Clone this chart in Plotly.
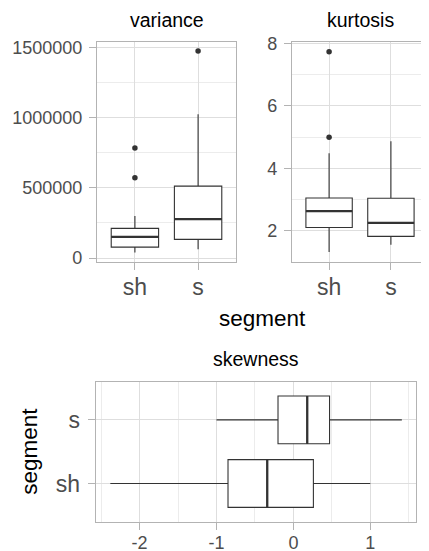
import plotly.graph_objects as go

# ---------------- data ----------------
categories = ["sh", "s"]
cat_pos = [1, 2]

var_lower = [40000, 62000]
var_q1 = [78000, 133000]
var_median = [151000, 277000]
var_q3 = [211000, 512000]
var_upper = [299000, 1024000]
var_out_sh = [571000, 784000]
var_out_s = [1474000]

kur_lower = [1.32, 1.55]
kur_q1 = [2.105, 1.82]
kur_median = [2.63, 2.25]
kur_q3 = [3.05, 3.04]
kur_upper = [4.48, 4.86]
kur_out_sh = [4.99, 7.73]
kur_out_s = []

skw_lower = [-2.38, -1.0]
skw_q1 = [-0.85, -0.20]
skw_median = [-0.34, 0.18]
skw_q3 = [0.26, 0.47]
skw_upper = [1.0, 1.41]

var_ticks = [0, 500000, 1000000, 1500000]
var_minor = [250000, 750000, 1250000]
kur_ticks = [2, 4, 6, 8]
kur_minor = [1, 3, 5, 7]
skw_ticks = [-2, -1, 0, 1]
skw_minor = [-2.5, -1.5, -0.5, 0.5, 1.5]

# ---------------- style ----------------
W, H = 429, 551
OFF = 8  # page body margin
FONT = "Liberation Sans"
BOX_COL = "#333333"
BORDER = "#b3b3b3"
GRID = "#dedede"
MINOR = "#ececec"
TICKTXT = "#4d4d4d"
BOXW = 0.75


def px_x(p):
    return (p - OFF) / W


def px_y(p):
    return 1 - (p - OFF) / H


fig = go.Figure()


def add_vbox(xa, ya, lower, q1, med, q3, upper, out_lists):
    fig.add_trace(go.Box(
        x=cat_pos, q1=q1, median=med, q3=q3, lowerfence=lower, upperfence=upper,
        width=BOXW, whiskerwidth=0, fillcolor="white",
        line=dict(color=BOX_COL, width=1.1), boxpoints=False,
        xaxis=xa, yaxis=ya, showlegend=False, hoverinfo="skip"))
    mx, my = [], []
    for p, m in zip(cat_pos, med):
        mx += [p - BOXW / 2, p + BOXW / 2, None]
        my += [m, m, None]
    fig.add_trace(go.Scatter(x=mx, y=my, mode="lines",
                             line=dict(color=BOX_COL, width=2.3),
                             xaxis=xa, yaxis=ya, showlegend=False, hoverinfo="skip"))
    ox, oy = [], []
    for p, outs in zip(cat_pos, out_lists):
        for v in outs:
            ox.append(p)
            oy.append(v)
    fig.add_trace(go.Scatter(x=ox, y=oy, mode="markers",
                             marker=dict(color=BOX_COL, size=5.5),
                             xaxis=xa, yaxis=ya, showlegend=False, hoverinfo="skip"))


add_vbox("x", "y", var_lower, var_q1, var_median, var_q3, var_upper, [var_out_sh, var_out_s])
add_vbox("x2", "y2", kur_lower, kur_q1, kur_median, kur_q3, kur_upper, [kur_out_sh, kur_out_s])

# horizontal skewness
fig.add_trace(go.Box(
    y=cat_pos, q1=skw_q1, median=skw_median, q3=skw_q3, lowerfence=skw_lower, upperfence=skw_upper,
    orientation="h", width=BOXW, whiskerwidth=0, fillcolor="white",
    line=dict(color=BOX_COL, width=1.1), boxpoints=False,
    xaxis="x3", yaxis="y3", showlegend=False, hoverinfo="skip"))
sx, sy = [], []
for p, m in zip(cat_pos, skw_median):
    sx += [m, m, None]
    sy += [p - BOXW / 2, p + BOXW / 2, None]
fig.add_trace(go.Scatter(x=sx, y=sy, mode="lines", line=dict(color=BOX_COL, width=2.3),
                         xaxis="x3", yaxis="y3", showlegend=False, hoverinfo="skip"))

common = dict(showline=True, mirror=True, linecolor=BORDER, linewidth=1.2,
              showgrid=True, gridcolor=GRID, gridwidth=1, zeroline=False,
              ticks="outside", ticklen=7, tickcolor=BORDER, tickwidth=1,
              fixedrange=True, automargin=False)

cat_axis = dict(common, range=[0.4, 2.6], tickmode="array", tickvals=cat_pos,
                ticktext=categories, tickfont=dict(family=FONT, size=23, color=TICKTXT))


def num_axis(rng, ticks, minor):
    return dict(common, range=rng, tickmode="array", tickvals=ticks,
                ticktext=[str(t) for t in ticks],
                tickfont=dict(family=FONT, size=18, color=TICKTXT),
                minor=dict(tickvals=minor, showgrid=True, gridcolor=MINOR, gridwidth=0.7, ticks=""))


d1x = [px_x(97), px_x(236)]
d2x = [px_x(292), px_x(428)]
dty = [px_y(262), px_y(42)]
d3x = [px_x(95.7), px_x(415.7)]
d3y = [px_y(521.7), px_y(381.7)]

fig.update_layout(
    template="none",
    width=W, height=H, margin=dict(l=0, r=0, t=0, b=0, autoexpand=False),
    paper_bgcolor="white", plot_bgcolor="white",
    font=dict(family=FONT, color="black"),
    xaxis=dict(cat_axis, domain=d1x, anchor="y", ticklabelstandoff=-3),
    yaxis=dict(num_axis([-28000, 1538000], var_ticks, var_minor), domain=dty, anchor="x",
               ticklabelstandoff=3),
    xaxis2=dict(cat_axis, domain=d2x, anchor="y2", ticklabelstandoff=-3),
    yaxis2=dict(num_axis([1.0, 8.04], kur_ticks, kur_minor), domain=dty, anchor="x2",
                ticklabelstandoff=3),
    xaxis3=dict(num_axis([-2.57, 1.59], skw_ticks, skw_minor), domain=d3x, anchor="y3",
                ticklabelstandoff=-2),
    yaxis3=dict(cat_axis, domain=d3y, anchor="x3", ticklabelstandoff=3),
    showlegend=False,
)

ann = [
    dict(text="variance", x=px_x(166.5), y=px_y(20), size=19.5, angle=0),
    dict(text="kurtosis", x=px_x(360), y=px_y(20), size=19.5, angle=0),
    dict(text="segment", x=px_x(262), y=px_y(319), size=22.5, angle=0),
    dict(text="skewness", x=px_x(255.7), y=px_y(359), size=19.5, angle=0),
    dict(text="segment", x=px_x(30), y=px_y(451.7), size=22.5, angle=-90),
]
for a in ann:
    fig.add_annotation(text=a["text"], x=a["x"], y=a["y"], xref="paper", yref="paper",
                       showarrow=False, xanchor="center", yanchor="middle", textangle=a["angle"],
                       font=dict(family=FONT, size=a["size"], color="black"))

fig.write_html("out.html")
